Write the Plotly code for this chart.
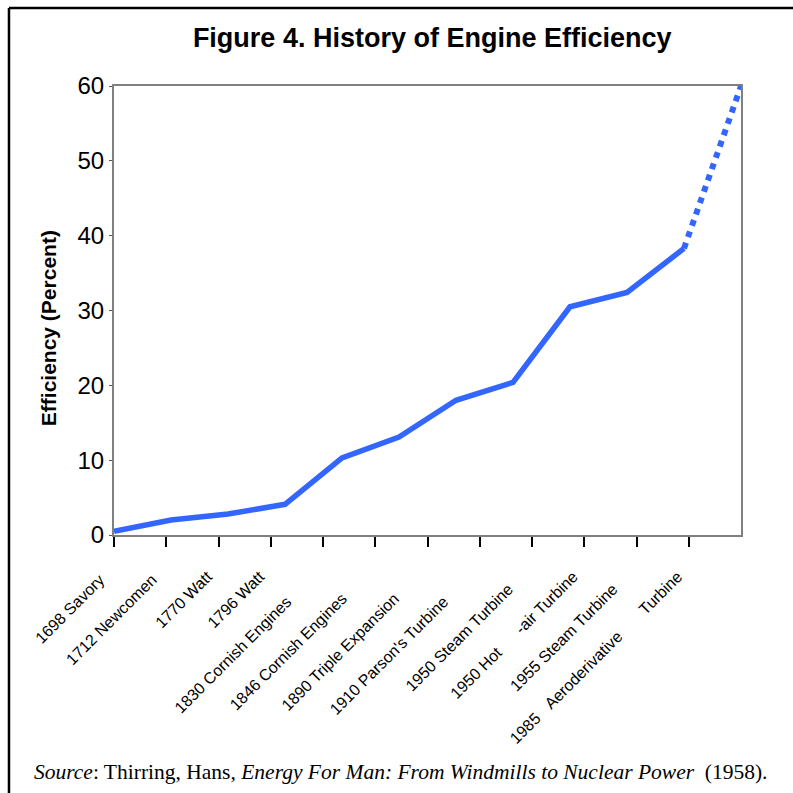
import plotly.graph_objects as go

# engine milestones and their efficiency (percent)
engines = [
    "1698 Savory",
    "1712 Newcomen",
    "1770 Watt",
    "1796 Watt",
    "1830 Cornish Engines",
    "1846 Cornish Engines",
    "1890 Triple Expansion",
    "1910 Parson's Turbine",
    "1950 Steam Turbine",
    "1950 Hot\u00a0\u00a0\u00a0\u00a0\u00a0\u00a0-air Turbine",
    "1955 Steam Turbine",
    "1985\u00a0\u00a0\u00a0Aeroderivative\u00a0\u00a0\u00a0\u00a0\u00a0\u00a0\u00a0Turbine",
]
efficiency = [0.5, 2.0, 2.8, 4.1, 10.3, 13.1, 18.0, 20.4, 30.5, 32.4, 38.3, 60.0]

# extra trailing room on some rotated labels (as in the original scan)
label_pad = [1, 1, 0, 0, 8, 7, 7, 8, 4, 0, 4, 0]
tick_text = [lab + "\u00a0" * p for lab, p in zip(engines, label_pad)]

BLUE = "#3366FF"

fig = go.Figure()

# empty trace so the labelled category axis gets drawn
fig.add_trace(go.Scatter(x=[], y=[], xaxis="x", showlegend=False, hoverinfo="skip"))

# measured history, solid
fig.add_trace(go.Scatter(
    x=engines[:-1], y=efficiency[:-1],
    xaxis="x2", mode="lines",
    line=dict(color=BLUE, width=5.5),
    showlegend=False, hoverinfo="x+y",
))
# projected step, dotted
fig.add_trace(go.Scatter(
    x=engines[-2:], y=efficiency[-2:],
    xaxis="x2", mode="lines",
    line=dict(color=BLUE, width=6, dash="dot"),
    showlegend=False, hoverinfo="x+y",
))

fig.update_layout(
    width=793, height=793,
    margin=dict(l=114, r=52, t=86, b=258),
    paper_bgcolor="white", plot_bgcolor="white",
    font=dict(family="Liberation Sans, Arial, sans-serif", color="black"),
    title=dict(
        text="<b>Figure 4. History of Engine Efficiency</b>",
        font=dict(size=27, family="Liberation Sans, Arial, sans-serif", color="black"),
        x=0.545, xanchor="center", xref="container",
        y=0.953, yanchor="middle", yref="container",
    ),
    xaxis=dict(
        range=[0, len(engines)],
        tickmode="array",
        tickvals=list(range(len(engines))),
        ticktext=tick_text,
        tickangle=-45,
        tickfont=dict(size=16),
        ticklabelstandoff=14, ticklabelshift=-11,
        ticks="outside", ticklen=10, tickwidth=2, tickcolor="black",
        showline=True, linecolor="#808080", linewidth=2, mirror=True,
        showgrid=False, zeroline=False,
    ),
    xaxis2=dict(
        type="category",
        categoryorder="array", categoryarray=engines,
        range=[0, len(engines) - 1],
        overlaying="x", visible=False,
    ),
    yaxis=dict(
        range=[0, 60], dtick=10,
        tickfont=dict(size=24),
        ticks="outside", ticklen=3, tickwidth=1, tickcolor="#555555",
        showline=True, linecolor="#808080", linewidth=2, mirror=True,
        showgrid=False, zeroline=False,
    ),
    annotations=[
        dict(
            text="<b>Efficiency (Percent)</b>",
            xref="paper", yref="paper",
            x=-0.105, y=0.461, textangle=-90,
            xanchor="center", yanchor="middle",
            showarrow=False,
            font=dict(size=21, family="Liberation Sans, Arial, sans-serif"),
        ),
        dict(
            text="<i>Source</i>: Thirring, Hans, <i>Energy For Man: From Windmills to Nuclear Power</i>  (1958).",
            xref="paper", yref="paper",
            x=-0.13, y=-0.528, xanchor="left", yanchor="middle",
            showarrow=False,
            font=dict(size=21.5, family="Liberation Serif, Times New Roman, serif"),
        ),
    ],
    shapes=[
        # outer frame of the scanned figure (open on right and bottom)
        dict(type="line", xref="paper", yref="paper",
             x0=-0.1675, x1=1.2, y0=1.1737, y1=1.1737,
             line=dict(color="black", width=2.5)),
        dict(type="line", xref="paper", yref="paper",
             x0=-0.1675, x1=-0.1675, y0=1.1737, y1=-0.7,
             line=dict(color="black", width=2.5)),
    ],
)

# page body has a default 8px margin; drop it so the figure sits at 0,0
fig.write_html("out.html", config={"displayModeBar": False},
               post_script="document.body.style.margin='0px';")
